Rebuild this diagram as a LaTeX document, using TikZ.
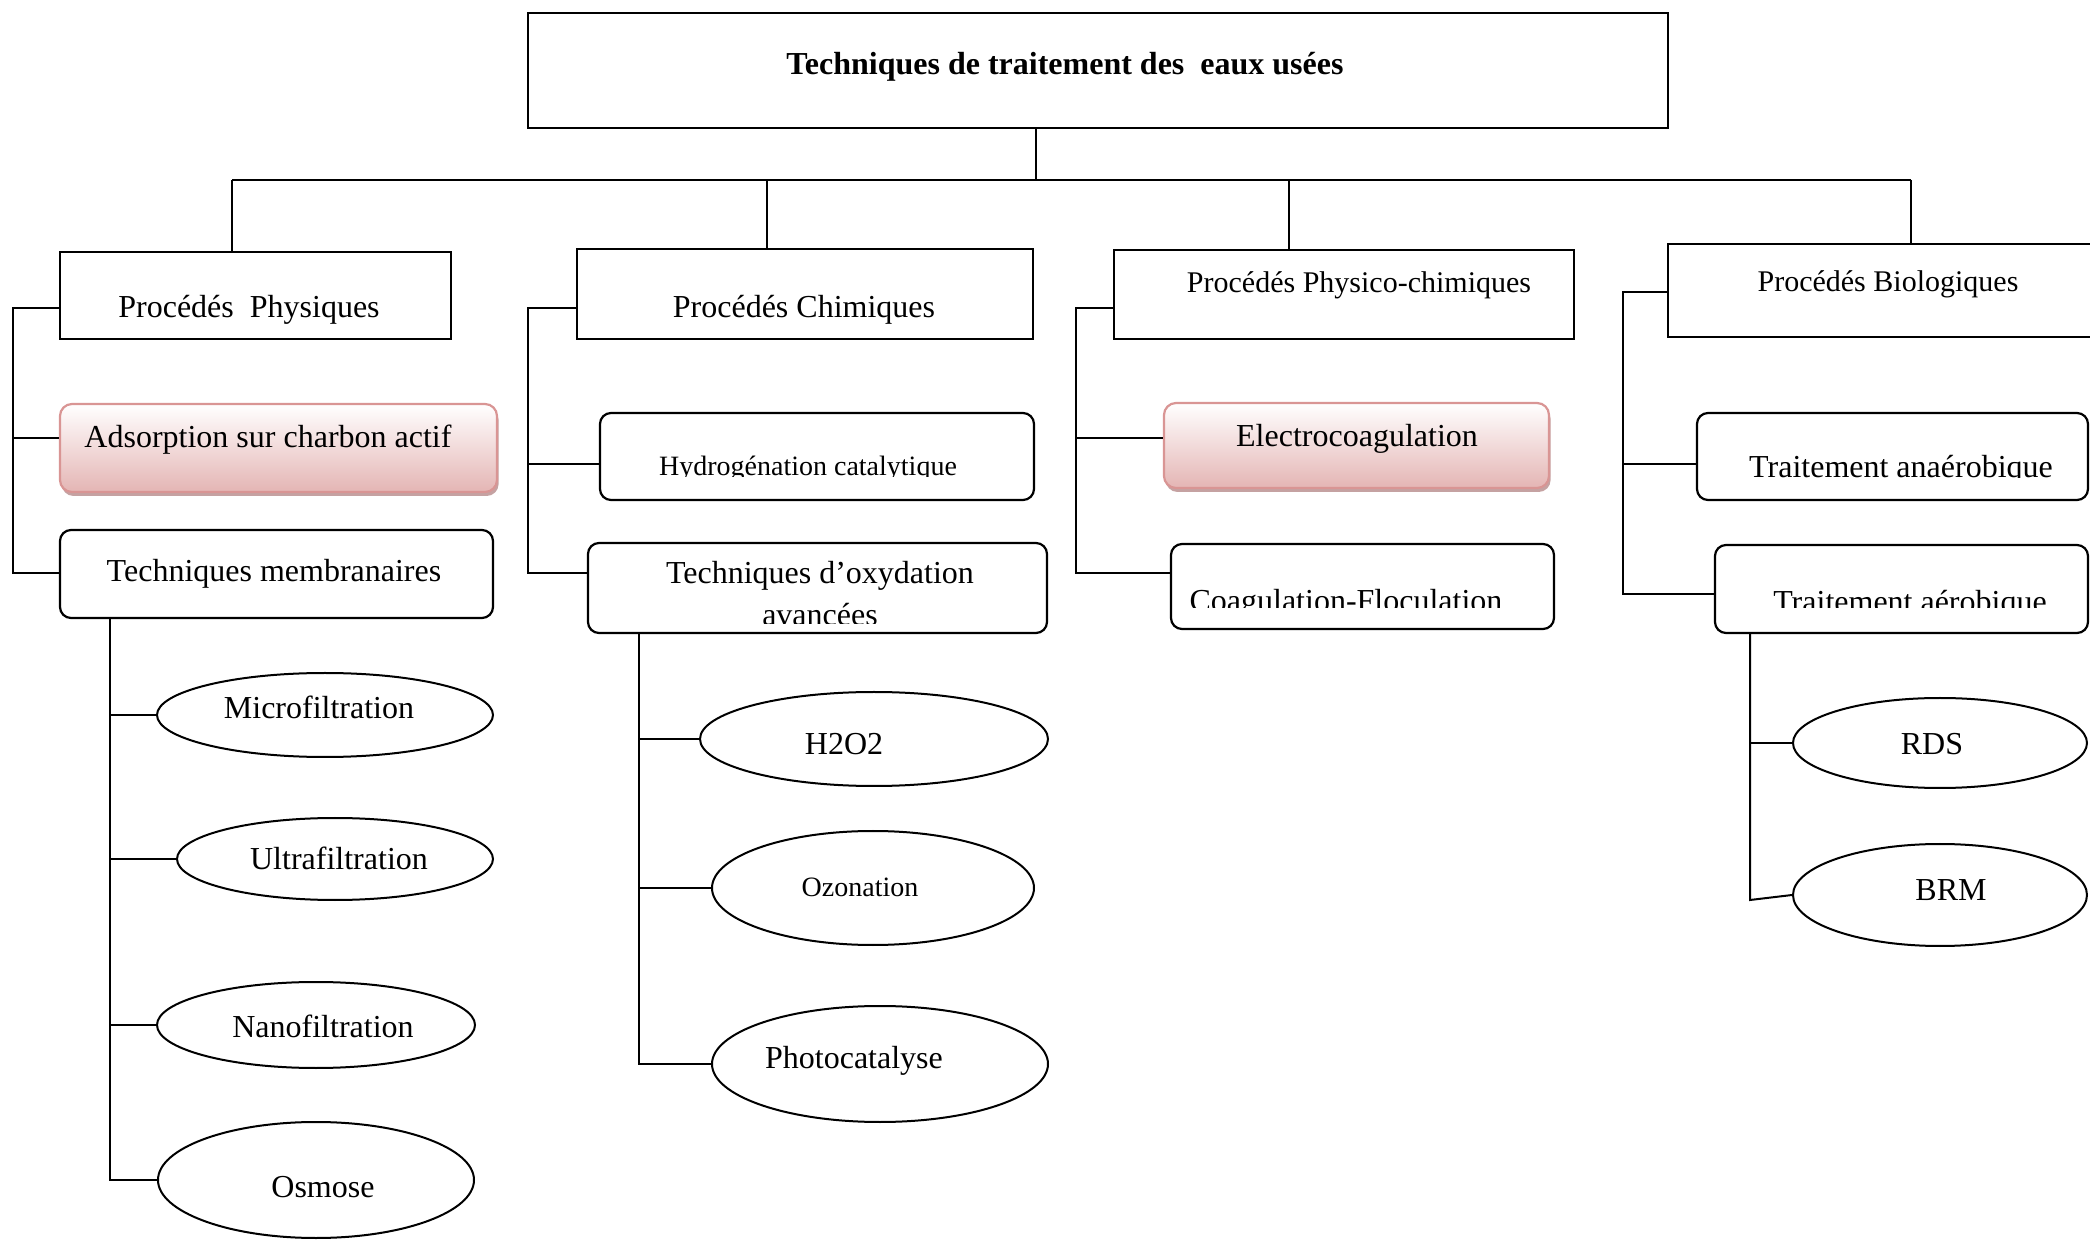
\documentclass[tikz,border=0pt]{standalone}
\usepackage{fontspec}
\setmainfont{Liberation Serif}
\usetikzlibrary{fit,shapes.geometric,shadows}
\definecolor{pinkb}{HTML}{D99594}
\definecolor{pinkf}{HTML}{E4B5B4}
\definecolor{pinks}{HTML}{BF9898}
\tikzset{
  sqbox/.style={draw, line width=1.1pt, inner sep=0pt},
  rdbox/.style={draw, line width=1.1pt, inner sep=0pt, rounded corners=5.5pt},
  pkbox/.style={draw=pinkb, line width=1.1pt, inner sep=0pt, rounded corners=6pt,
    top color=white, bottom color=pinkf,
    drop shadow={shadow xshift=0.8pt, shadow yshift=-2pt, fill=pinks, opacity=0.9}},
  ell/.style={ellipse, draw, line width=1pt, inner sep=0pt, fill=white},
  conn/.style={line width=1pt},
  lbl/.style={anchor=base, inner sep=0pt, font=\fontsize{16}{19}\selectfont},
  lblm/.style={lbl, font=\fontsize{15}{18}\selectfont},
  lbls/.style={lbl, font=\fontsize{14}{17}\selectfont},
}
\begin{document}
\begin{tikzpicture}[x=0.5pt,y=-0.5pt]
\useasboundingbox (0,0) rectangle (2090,1240);
\clip (0,0) rectangle (2090,1240);
\fill[white] (0,0) rectangle (2090,1240);

% ---- boxes ----
\node[sqbox, line width=1.4pt, fit={(528,13) (1668,128)}] (top) {};
\node[sqbox, fit={(60,252) (451,339)}] (phys) {};
\node[sqbox, fit={(577,249) (1033,339)}] (chim) {};
\node[sqbox, fit={(1114,250) (1574,339)}] (pchim) {};
\node[sqbox, fit={(1668,244) (2110,337)}] (bio) {};

\node[pkbox, fit={(60,404) (497,492)}] (ads) {};
\node[rdbox, fit={(60,530) (493,618)}] (memb) {};
\node[rdbox, fit={(600,413) (1034,500)}] (hydro) {};
\node[rdbox, fit={(588,543) (1047,633)}] (oxy) {};
\node[pkbox, fit={(1164,403) (1549,488)}] (elec) {};
\node[rdbox, fit={(1171,544) (1554,629)}] (coag) {};
\node[rdbox, fit={(1697,413) (2088,500)}] (anae) {};
\node[rdbox, fit={(1715,545) (2088,633)}] (aero) {};

% ---- ellipses (minimum width = rx pt, height = ry pt) ----
\node[ell, minimum width=168pt, minimum height=42pt] (mic) at (325,715) {};
\node[ell, minimum width=158pt, minimum height=41pt] (ult) at (335,859) {};
\node[ell, minimum width=159pt, minimum height=43pt] (nan) at (316,1025) {};
\node[ell, minimum width=158pt, minimum height=58pt] (osm) at (316,1180) {};
\node[ell, minimum width=174pt, minimum height=47pt] (hoo) at (874,739) {};
\node[ell, minimum width=161pt, minimum height=57pt] (ozo) at (873,888) {};
\node[ell, minimum width=168pt, minimum height=58pt] (pho) at (880,1064) {};
\node[ell, minimum width=147pt, minimum height=45pt] (rds) at (1940,743) {};
\node[ell, minimum width=147pt, minimum height=51pt] (brm) at (1940,895) {};

% ---- texts ----
\node[lbl, font=\bfseries\fontsize{16}{19}\selectfont] (ttop) at (1065,75) {Techniques de traitement des\ \ eaux usées};
\node[lbl] (tphys) at (249,318) {Procédés\ \ Physiques};
\node[lbl] (tchim) at (804,318) {Procédés Chimiques};
\node[lblm] (tpchim) at (1359,293) {Procédés Physico-chimiques};
\node[lblm] (tbio) at (1888,292) {Procédés Biologiques};
\node[lbl] (tads) at (268,448) {Adsorption sur charbon actif};
\node[lbl] (tmemb) at (274,582) {Techniques membranaires};
\begin{scope}
  \clip (600,420) rectangle (1034,477);
  \node[lbls] (thydro) at (808,476) {Hydrogénation catalytique};
\end{scope}
\node[lbl] (toxy1) at (820,584) {Techniques d’oxydation};
\begin{scope}
  \clip (600,590) rectangle (1040,624);
  \node[lbl] (toxy2) at (820,626) {avancées};
\end{scope}
\node[lbl] (telec) at (1357,447) {Electrocoagulation};
\begin{scope}
  \clip (1175,570) rectangle (1550,608);
  \node[lbl] (tcoag) at (1346,612) {Coagulation-Floculation};
\end{scope}
\begin{scope}
  \clip (1700,420) rectangle (2085,478);
  \node[lbl] (tanae) at (1901,478) {Traitement anaérobique};
\end{scope}
\begin{scope}
  \clip (1720,570) rectangle (2085,608);
  \node[lbl] (taero) at (1910,613) {Traitement aérobique};
\end{scope}
\node[lbl] (tmic) at (319,719) {Microfiltration};
\node[lbl] (tult) at (339,870) {Ultrafiltration};
\node[lbl] (tnan) at (323,1037) {Nanofiltration};
\node[lbl] (tosm) at (323,1197) {Osmose};
\node[lbl] (thoo) at (844,755) {H2O2};
\node[lbls] (tozo) at (860,897) {Ozonation};
\node[lbl] (tpho) at (854,1068) {Photocatalyse};
\node[lbl] (trds) at (1932,755) {RDS};
\node[lbl] (tbrm) at (1951,900) {BRM};

% ---- connector coordinates ----
\coordinate (t0) at (1036,180);
\coordinate (d1) at (232,180);
\coordinate (d2) at (767,180);
\coordinate (d3) at (1289,180);
\coordinate (d4) at (1911,180);
\coordinate (pa) at (13,308);  \coordinate (pb) at (13,438);  \coordinate (pc) at (13,573);
\coordinate (ca) at (528,308); \coordinate (cb) at (528,464); \coordinate (cc) at (528,573);
\coordinate (qa) at (1076,308);\coordinate (qb) at (1076,438);\coordinate (qc) at (1076,573);
\coordinate (ba) at (1623,292);\coordinate (bb) at (1623,464);\coordinate (bc) at (1623,594);
\coordinate (m0) at (110,1180);
\coordinate (o0) at (639,1064);
\coordinate (a0) at (1750,900);

% ---- connectors ----
\draw[conn] (top.south -| t0) -- (t0);
\draw[conn] (d1) -- (d4);
\draw[conn] (d1) -- (phys.north -| d1);
\draw[conn] (d2) -- (chim.north -| d2);
\draw[conn] (d3) -- (pchim.north -| d3);
\draw[conn] (d4) -- (bio.north -| d4);

\draw[conn] (phys.west |- pa) -- (pa) -- (pc) -- (memb.west |- pc);
\draw[conn] (pb) -- (ads.west |- pb);
\draw[conn] (chim.west |- ca) -- (ca) -- (cc) -- (oxy.west |- cc);
\draw[conn] (cb) -- (hydro.west |- cb);
\draw[conn] (pchim.west |- qa) -- (qa) -- (qc) -- (coag.west |- qc);
\draw[conn] (qb) -- (elec.west |- qb);
\draw[conn] (bio.west |- ba) -- (ba) -- (bc) -- (aero.west |- bc);
\draw[conn] (bb) -- (anae.west |- bb);

\draw[conn] (memb.south -| m0) -- (m0) -- (osm.west);
\draw[conn] (mic.west -| m0) -- (mic.west);
\draw[conn] (ult.west -| m0) -- (ult.west);
\draw[conn] (nan.west -| m0) -- (nan.west);

\draw[conn] (oxy.south -| o0) -- (o0) -- (pho.west);
\draw[conn] (hoo.west -| o0) -- (hoo.west);
\draw[conn] (ozo.west -| o0) -- (ozo.west);

\draw[conn] (aero.south -| a0) -- (a0) -- (brm.west);
\draw[conn] (rds.west -| a0) -- (rds.west);
\end{tikzpicture}
\end{document}
